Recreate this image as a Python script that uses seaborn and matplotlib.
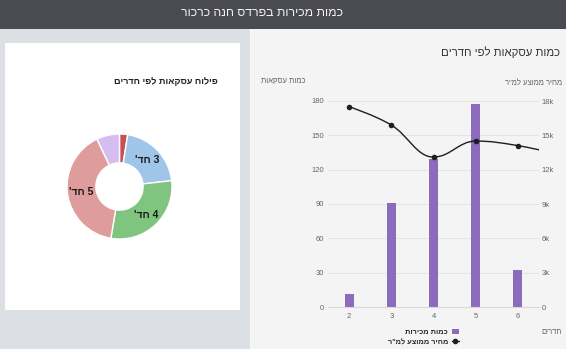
import numpy as np
import pandas as pd
import matplotlib
matplotlib.use("Agg")
import matplotlib.pyplot as plt
from matplotlib.patches import Rectangle, Patch, PathPatch
from matplotlib.lines import Line2D
from matplotlib.path import Path
import seaborn as sns

# ---------------- data ----------------
rooms = [2, 3, 4, 5, 6]
deal_counts = [11, 91, 129, 177, 32]
price_rooms = [2, 3, 4, 5, 6, 7]
avg_price_m2 = [17500, 15900, 13100, 14500, 14100, 13300]

pie_labels = ["", "3 חד'", "4 חד'", "5 חד'", ""]
pie_counts = [11, 91, 129, 177, 31]
pie_colors = ["#c9514f", "#9fc5e8", "#7fc47f", "#de9c9c", "#d5bdf0"]

left_ticks = [0, 30, 60, 90, 120, 150, 180]
right_ticks = [0, 3000, 6000, 9000, 12000, 15000, 18000]
right_tick_labels = ["0", "3k", "6k", "9k", "12k", "15k", "18k"]

header_title = "כמות מכירות בפרדס חנה כרכור"
pie_title = "פילוח עסקאות לפי חדרים"
bar_title = "כמות עסקאות לפי חדרים"
left_axis_title = "כמות עסקאות"
right_axis_title = 'מחיר ממוצע למ"ר'
x_axis_title = "חדרים"
bar_series_name = "כמות מכירות"
line_series_name = 'מחיר ממוצע למ"ר'

bar_color = "#8c6bbd"


def rtl(s):
    # matplotlib lays text out left-to-right; reverse Hebrew for visual order
    return s[::-1]


W, H = 566, 349


def fx(x):
    return x / W


def fy(y):
    return 1 - y / H


sns.set_theme(style="white")
plt.rcParams["font.family"] = ["Liberation Sans", "DejaVu Sans"]

fig = plt.figure(figsize=(W / 100, H / 100), dpi=100)
fig.patch.set_facecolor("#dcdfe4")


def rect(x0, y0, x1, y1, color):
    fig.patches.append(Rectangle((fx(x0), fy(y1)), (x1 - x0) / W, (y1 - y0) / H,
                                 transform=fig.transFigure, facecolor=color,
                                 edgecolor="none", zorder=-10))


rect(0, 0, W, 29, "#4a4a51")
rect(250, 29, W, H, "#f4f4f4")
rect(250, 29, 251, H, "#fbfbfb")
rect(5, 43, 240, 310, "#ffffff")

fig.text(fx(262), fy(13), rtl(header_title), ha="center", va="center",
         fontsize=8.8, color="#f2f2f2")
fig.text(fx(218), fy(82), rtl(pie_title), ha="right", va="center",
         fontsize=6.6, fontweight="bold", color="#222222")
fig.text(fx(560), fy(52), rtl(bar_title), ha="right", va="center",
         fontsize=8.2, color="#333333")
fig.text(fx(305), fy(82), rtl(left_axis_title), ha="right", va="center",
         fontsize=5.5, color="#666666")
fig.text(fx(562), fy(83), rtl(right_axis_title), ha="right", va="center",
         fontsize=5.5, color="#666666")
fig.text(fx(562), fy(333), rtl(x_axis_title), ha="right", va="center",
         fontsize=5.5, color="#666666")

# ---------------- pie ----------------
pax = fig.add_axes([fx(67), fy(239), 105 / W, 105 / H])
pax.pie(pie_counts, labels=[rtl(l) for l in pie_labels], colors=pie_colors,
        startangle=90, counterclock=False, labeldistance=0.74, radius=1,
        wedgeprops=dict(width=0.55, edgecolor="white", linewidth=1),
        textprops=dict(fontsize=7.5, fontweight="bold", color="#1a1a1a",
                       ha="center", va="center"))
pax.set_xlim(-1, 1)
pax.set_ylim(-1, 1)

# ---------------- bar + line ----------------
ax = fig.add_axes([fx(328), fy(307), 211 / W, 206 / H])
ax.set_facecolor("none")
df = pd.DataFrame({"rooms": rooms, "count": deal_counts})
sns.barplot(data=df, x="rooms", y="count", native_scale=True, width=0.21,
            color=bar_color, saturation=1, linewidth=0, ax=ax, zorder=2)
ax.set_xlim(1.5, 6.5)
ax.set_ylim(0, 180)
ax.set_yticks(left_ticks)
ax.set_xticks(rooms)
ax.set_xticks([1.5, 2.5, 3.5, 4.5, 5.5, 6.5], minor=True)
ax.grid(axis="y", color="#e4e4e4", linewidth=0.8)
ax.set_axisbelow(True)
for s in ["top", "left", "right"]:
    ax.spines[s].set_visible(False)
ax.spines["bottom"].set_color("#d8d8d8")
ax.spines["bottom"].set_linewidth(0.8)
ax.tick_params(axis="x", which="major", length=0, pad=4, labelsize=5.5,
               labelcolor="#666666")
ax.tick_params(axis="x", which="minor", length=4, direction="inout",
               color="#d8d8d8", width=0.8)
ax.tick_params(axis="y", length=0, pad=3, labelsize=5.5, labelcolor="#666666")
ax.set_xlabel("")
ax.set_ylabel("")

ax2 = ax.twinx()
ax2.set_facecolor("none")


def spline_path(xs, ys, smoothing=1.5):
    n = len(xs)
    left = [(xs[i], ys[i]) for i in range(n)]
    right = [(xs[i], ys[i]) for i in range(n)]
    denom = smoothing + 1
    for i in range(1, n - 1):
        px, py = xs[i], ys[i]
        lx, ly = xs[i - 1], ys[i - 1]
        nx, ny = xs[i + 1], ys[i + 1]
        lcx = (smoothing * px + lx) / denom
        lcy = (smoothing * py + ly) / denom
        rcx = (smoothing * px + nx) / denom
        rcy = (smoothing * py + ny) / denom
        corr = 0
        if rcx != lcx:
            corr = (rcy - lcy) * (rcx - px) / (rcx - lcx) + py - rcy
        lcy += corr
        rcy += corr
        if lcy > ly and lcy > py:
            lcy = max(ly, py)
            rcy = 2 * py - lcy
        elif lcy < ly and lcy < py:
            lcy = min(ly, py)
            rcy = 2 * py - lcy
        if rcy > ny and rcy > py:
            rcy = max(ny, py)
            lcy = 2 * py - rcy
        elif rcy < ny and rcy < py:
            rcy = min(ny, py)
            lcy = 2 * py - rcy
        left[i] = (lcx, lcy)
        right[i] = (rcx, rcy)
    verts = [(xs[0], ys[0])]
    codes = [Path.MOVETO]
    for i in range(1, n):
        verts += [right[i - 1], left[i], (xs[i], ys[i])]
        codes += [Path.CURVE4] * 3
    return Path(verts, codes)


ax2.add_patch(PathPatch(spline_path(price_rooms, avg_price_m2), fill=False,
                        edgecolor="#1e1e1e", linewidth=1.0, zorder=3))
ldf = pd.DataFrame({"rooms": price_rooms, "price": avg_price_m2})
sns.scatterplot(data=ldf, x="rooms", y="price", ax=ax2, color="#1e1e1e",
                s=16, linewidth=0, zorder=4)
ax2.set_xlim(1.5, 6.5)
ax2.set_ylim(0, 18000)
ax2.set_yticks(right_ticks)
ax2.set_yticklabels(right_tick_labels)
ax2.tick_params(axis="y", length=0, pad=2, labelsize=5.5, labelcolor="#666666")
for s in ["top", "left", "right", "bottom"]:
    ax2.spines[s].set_visible(False)
ax2.set_xlabel("")
ax2.set_ylabel("")
ax2.grid(False)
ax.set_xlim(1.5, 6.5)

handles = [Patch(facecolor=bar_color, edgecolor="none"),
           Line2D([0], [0], color="#1e1e1e", marker="o", markersize=3, lw=1)]
fig.legend(handles, [rtl(bar_series_name), rtl(line_series_name)],
           loc="center right", bbox_to_anchor=(fx(459), fy(337.5)),
           markerfirst=False, frameon=False,
           prop={"size": 5.3, "weight": "bold"}, handlelength=1.0,
           handleheight=0.8, handletextpad=0.5, labelspacing=0.35,
           borderpad=0, borderaxespad=0)

fig.savefig("out.png", dpi=100, facecolor=fig.get_facecolor())
